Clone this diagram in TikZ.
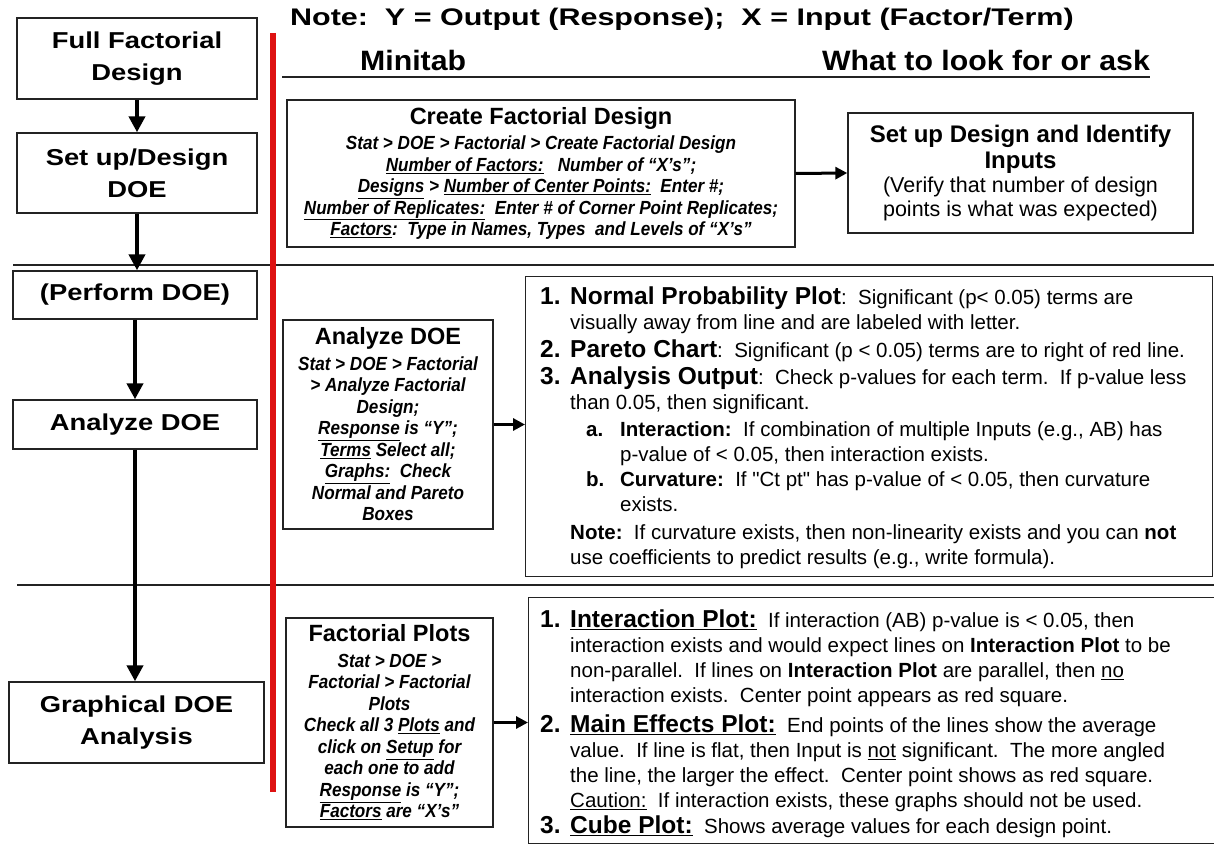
\documentclass[tikz,border=0pt]{standalone}
\usepackage{fontspec}
\setmainfont{Liberation Sans}
\newfontfamily\stagefont[FakeStretch=1.19]{Liberation Sans}
\newfontfamily\notefont[FakeStretch=1.27]{Liberation Sans}
\newfontfamily\headfont[FakeStretch=1.08]{Liberation Sans}
\newfontfamily\menufont[FakeStretch=0.9]{Liberation Sans}
\newfontfamily\quotefont{Liberation Sans}
\usetikzlibrary{arrows.meta}

\definecolor{edge}{RGB}{35,35,35}
\definecolor{barred}{RGB}{222,18,18}

% text helpers
\newcommand{\boxtitle}[1]{{\mdseries\upshape\bfseries\fontsize{23.5}{24}\selectfont\rmfamily #1}}
\newcommand{\boldhead}[1]{{\bfseries\fontsize{24}{27}\selectfont #1}}
\newcommand{\itemlab}[1]{{\bfseries\fontsize{24.5}{25}\selectfont #1}}
\newcommand{\itemnum}[1]{\makebox[30pt][l]{\itemlab{#1}}}
\newcommand{\subnum}[1]{\hspace*{46pt}\makebox[34pt][l]{\bfseries #1}}
\newcommand{\indA}{\hspace*{30pt}}
\newcommand{\indB}{\hspace*{80pt}}
\newcommand{\straightq}{{\quotefont\symbol{34}}}

\begin{document}
\begin{tikzpicture}[x=1pt,y=-1pt,
  stagebox/.style={draw=edge, line width=1.4pt, fill=white, align=center, inner sep=0pt,
    font=\stagefont\bfseries\fontsize{23}{32}\selectfont},
  menubox/.style={draw=edge, line width=1.4pt, fill=white, align=center, inner sep=0pt,
    font=\menufont\bfseries\itshape\fontsize{19}{21.5}\selectfont},
  plainbox/.style={draw=edge, line width=1.4pt, fill=white, align=center, inner sep=0pt,
    font=\fontsize{21.5}{24}\selectfont},
  checkframe/.style={draw=edge, line width=1.4pt, anchor=north west, inner sep=0pt},
  checktext/.style={anchor=west, align=left, inner sep=0pt, font=\fontsize{20.5}{25}\selectfont},
  headtxt/.style={inner sep=0pt, font=\headfont\bfseries\fontsize{28}{28}\selectfont},
  rule/.style={draw=edge, line width=1.4pt},
  flow/.style={line width=4.5pt, -{Triangle[length=16pt,width=16pt]}},
  flowh/.style={line width=3pt, -{Triangle[length=12pt,width=12pt]}}
]
\useasboundingbox[fill=white] (0,0) rectangle (1214,845);

% section rules
\draw[rule] (282,77) -- (1150,77);
\draw[rule] (13,265) -- (1214,265);
\draw[rule] (17,585) -- (1214,585);

% red separator between the stage column and the tool column
\draw[barred, line width=5.5pt] (273,33) -- (273,792);

% headings
\node[inner sep=0pt, anchor=base west, font=\notefont\bfseries\fontsize{24}{24}\selectfont] (note)
  at (290,26) {Note:\ \ Y = Output (Response);\ \ X = Input (Factor/Term)};
\node[headtxt, anchor=base west] (mtab) at (360,71) {Minitab};
\node[headtxt, anchor=base east] (look) at (1150,71) {What to look for or ask};

% stage column
\node[stagebox, minimum width=240, minimum height=81] (full) at (137,58.5) {Full Factorial\\Design};
\node[stagebox, minimum width=240, minimum height=80] (setup) at (137,173) {Set up/Design\\DOE};
\node[stagebox, minimum width=244, minimum height=48] (perform) at (135,295) {(Perform DOE)};
\node[stagebox, minimum width=244, minimum height=49] (analyze) at (135,424.5) {Analyze DOE};
\node[stagebox, minimum width=255, minimum height=81] (graph) at (136.5,722.5) {Graphical DOE\\Analysis};

\draw[flow] (full.south) -- (setup.north);
\draw[flow] (setup.south) -- (setup.south |- perform.north);
\draw[flow] (perform.south) -- (analyze.north);
\draw[flow] (analyze.south) -- (analyze.south |- graph.north);

% Minitab menu boxes
\node[menubox, minimum width=508, minimum height=147] (create) at (541,173.5) {%
  \boxtitle{Create Factorial Design}\\[4pt]
  Stat > DOE > Factorial > Create Factorial Design\\
  \underline{Number of Factors:}\ \ \ Number of “X’s”;\\
  \underline{Designs} > \underline{Number of Center Points:}\ \ Enter \#;\\
  \underline{Number of Replicates:}\ \ Enter \# of Corner Point Replicates;\\
  \underline{Factors}:\ \ Type in Names, Types\ \ and Levels of “X’s”};

\node[plainbox, minimum width=345, minimum height=120] (inputs) at (1020.5,173) {%
  \boldhead{Set up Design and Identify}\\[2pt]
  \boldhead{Inputs}\\
  (Verify that number of design\\
  points is what was expected)};

\node[menubox, minimum width=210, minimum height=209] (anmid) at (388,424.5) {%
  \boxtitle{Analyze DOE}\\[4pt]
  Stat > DOE > Factorial\\
  > Analyze Factorial\\
  Design;\\
  \underline{Response} is “Y”;\\
  \underline{Terms} Select all;\\
  \underline{Graphs:}\ \ Check\\
  Normal and Pareto\\
  Boxes};

\node[menubox, minimum width=207, minimum height=209] (fplots) at (389.5,722.5) {%
  \boxtitle{Factorial Plots}\\[4pt]
  Stat > DOE >\\
  Factorial > Factorial\\
  Plots\\
  Check all 3 \underline{Plots} and\\
  click on \underline{Setup} for\\
  each one to add\\
  \underline{Response} is “Y”;\\
  \underline{Factors} are “X’s”};

% what to look for
\node[checkframe, minimum width=687, minimum height=300] (chk1) at (525,276) {};
\node[checktext] (chk1txt) at ([xshift=15pt,yshift=-1pt]chk1.west) {%
  \itemnum{1.}\itemlab{Normal Probability Plot}:\ \ Significant (p< 0.05) terms are\\
  \indA visually away from line and are labeled with letter.\\[2.5pt]
  \itemnum{2.}\itemlab{Pareto Chart}:\ \ Significant (p < 0.05) terms are to right of red line.\\[2.5pt]
  \itemnum{3.}\itemlab{Analysis Output}:\ \ Check p-values for each term.\ \ If p-value less\\
  \indA than 0.05, then significant.\\[2pt]
  \subnum{a.}\textbf{Interaction:}\ \ If combination of multiple Inputs (e.g., AB) has\\
  \indB p-value of < 0.05, then interaction exists.\\
  \subnum{b.}\textbf{Curvature:}\ \ If \straightq Ct pt\straightq{} has p-value of < 0.05, then curvature\\
  \indB exists.\\[2.5pt]
  \indA\textbf{Note:}\ \ If curvature exists, then non-linearity exists and you can \textbf{not}\\
  \indA use coefficients to predict results (e.g., write formula).};

\node[checkframe, minimum width=690, minimum height=246] (chk2) at (528,597) {};
\node[checktext] (chk2txt) at ([xshift=12pt,yshift=-3pt]chk2.west) {%
  \itemnum{1.}\underline{\itemlab{Interaction Plot:}}\ \ If interaction (AB) p-value is < 0.05, then\\
  \indA interaction exists and would expect lines on \textbf{Interaction Plot} to be\\
  \indA non-parallel.\ \ If lines on \textbf{Interaction Plot} are parallel, then \underline{no}\\
  \indA interaction exists.\ \ Center point appears as red square.\\[5pt]
  \itemnum{2.}\underline{\itemlab{Main Effects Plot:}}\ \ End points of the lines show the average\\
  \indA value.\ \ If line is flat, then Input is \underline{not} significant.\ \ The more angled\\
  \indA the line, the larger the effect.\ \ Center point shows as red square.\\
  \indA\underline{Caution:}\ \ If interaction exists, these graphs should not be used.\\[1pt]
  \itemnum{3.}\underline{\itemlab{Cube Plot:}}\ \ Shows average values for each design point.};

% connectors from the menus to the checks
\draw[flowh] (create.east) -- (inputs.west);
\draw[flowh] (anmid.east) -- (anmid.east -| chk1.west);
\draw[flowh] (fplots.east) -- (fplots.east -| chk2.west);
\end{tikzpicture}
\end{document}
